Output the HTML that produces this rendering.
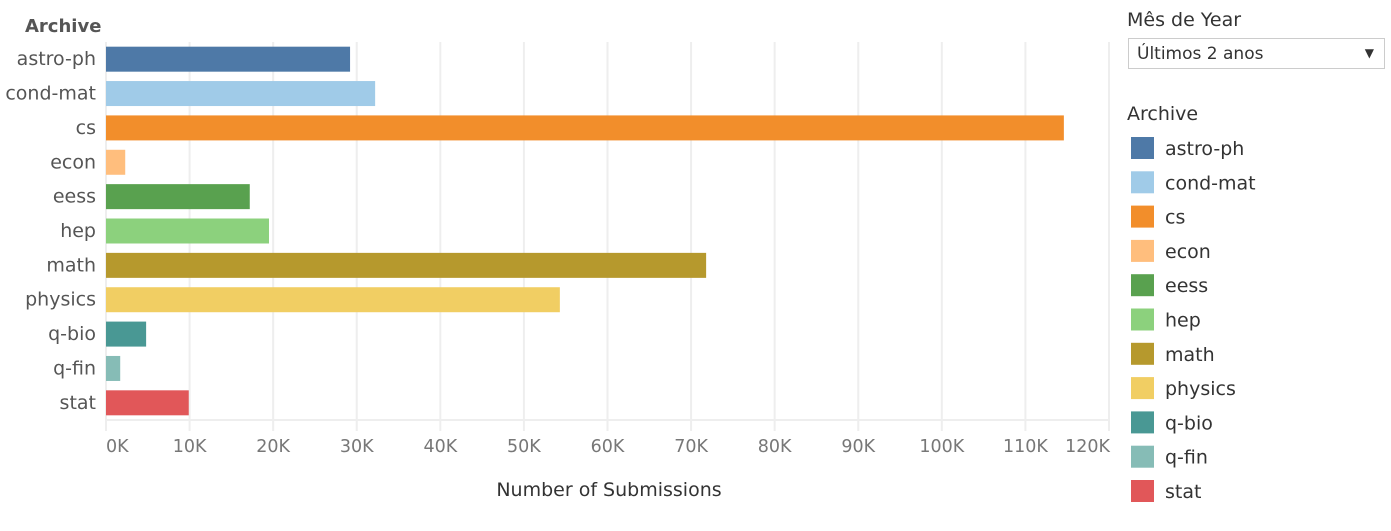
<!DOCTYPE html>
<html><head><meta charset="utf-8"><style>
body{margin:0;width:1391px;height:531px;background:#fff;font-family:"DejaVu Sans","Liberation Sans",sans-serif;overflow:hidden;position:relative}
.abs{position:absolute}
</style></head><body>
<svg id="chart" class="abs" style="left:0;top:0;font-family:'DejaVu Sans','Liberation Sans',sans-serif" width="1391" height="531"></svg>
<div class="abs" style="left:1127px;top:9px;font-size:19px;color:#333">Mês de Year</div>
<div class="abs" style="left:1128px;top:38px;width:257px;height:31px;border:1px solid #ccc;box-sizing:border-box;font-size:17px;color:#333;padding:5px 0 0 8px">Últimos 2 anos<span style="position:absolute;right:10px;top:7px;font-size:12px">▼</span></div>
<div class="abs" style="left:1127px;top:103px;font-size:19px;color:#333">Archive</div>
<script>
const categories=["astro-ph","cond-mat","cs","econ","eess","hep","math","physics","q-bio","q-fin","stat"];
const values=[29.2,32.2,114.6,2.3,17.2,19.5,71.8,54.3,4.8,1.7,9.9];
const colors=["#4e79a7","#a0cbe8","#f28e2b","#ffbe7d","#59a14f","#8cd17d","#b6992d","#f1ce63","#499894","#86bcb6","#e15759"];
const ticks=[0,10,20,30,40,50,60,70,80,90,100,110,120];
const tickLabels=["0K","10K","20K","30K","40K","50K","60K","70K","80K","90K","100K","110K","120K"];
const NS="http://www.w3.org/2000/svg";
const svg=document.getElementById('chart');
const x0=106,xPer=(1109-106)/120,yTop=42,rowH=(420-42)/categories.length;
const x=v=>x0+v*xPer, yc=i=>yTop+rowH*(i+0.5);
function mk(t,a){const e=document.createElementNS(NS,t);for(const k in a)e.setAttribute(k,a[k]);svg.appendChild(e);return e;}
ticks.forEach((t,i)=>{
 const g=mk('line',{x1:x(t),x2:x(t),y1:yTop,y2:431,stroke:'#eeeeee','stroke-width':2});
 
 
 const anchor=i==0?'start':(i==ticks.length-1?'end':'middle');
 const tx=mk('text',{x:i==ticks.length-1?x(t)+1:x(t),y:452,'font-size':17.5,fill:'#777','text-anchor':anchor});
 tx.textContent=tickLabels[i];
 
 
});
const ax=mk('line',{x1:x0,x2:1110,y1:420,y2:420,stroke:'#eeeeee','stroke-width':2});


categories.forEach((c,i)=>{
 const r=mk('rect',{x:x0,y:yc(i)-12.5,width:x(values[i])-x0,height:25,fill:colors[i]});
 
 
 const t=mk('text',{x:96,y:yc(i)+6,'font-size':19,fill:'#555','text-anchor':'end'});
 t.textContent=c;
 
 
 const ly=148+i*34.3;
 const s=mk('rect',{x:1131,y:ly-11,width:23,height:22,fill:colors[i]});
 
 
 const lt=mk('text',{x:1165,y:ly+7,'font-size':19,fill:'#333'});
 lt.textContent=c;
 
 
});
const h=mk('text',{x:25,y:32,'font-size':18,'font-weight':'bold',fill:'#555'});
h.textContent='Archive';


const xt=mk('text',{x:609,y:496,'font-size':19,fill:'#333','text-anchor':'middle'});
xt.textContent='Number of Submissions';


</script>
</body></html>
